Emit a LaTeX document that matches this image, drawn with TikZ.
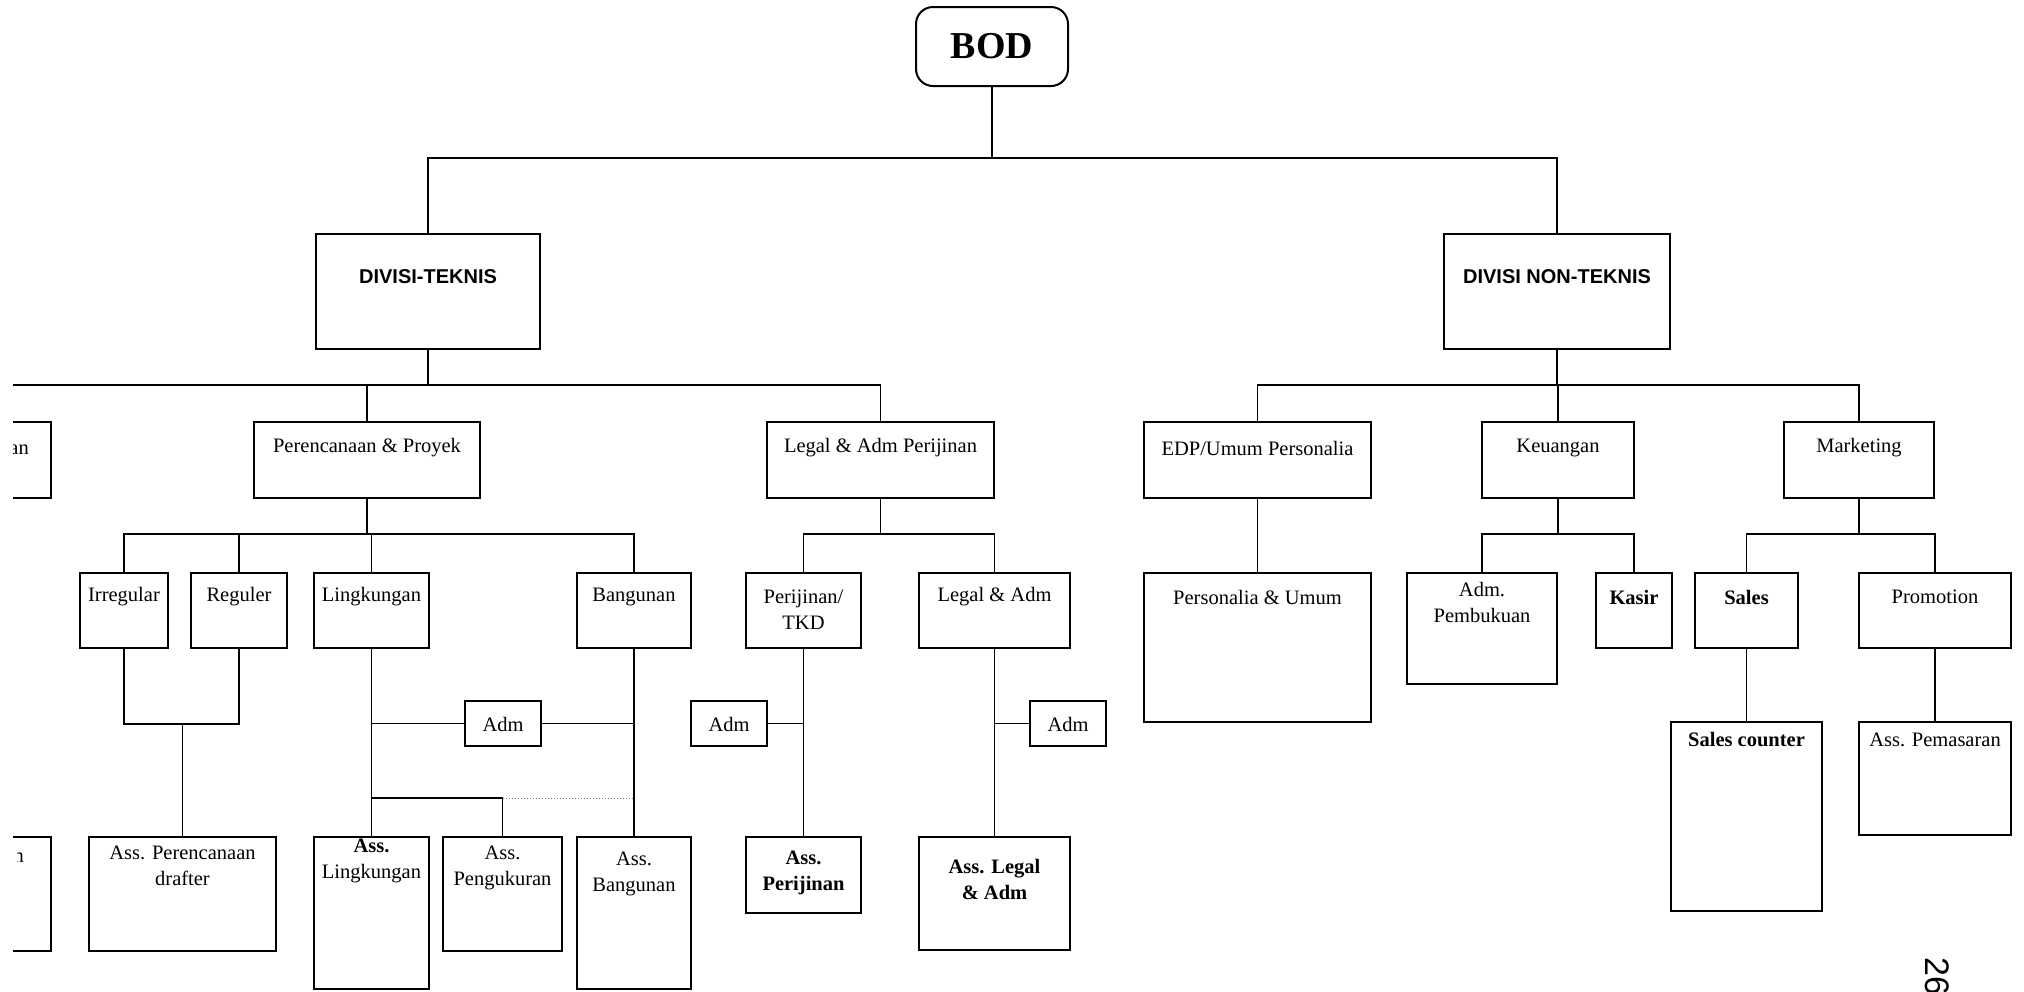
\documentclass[tikz,border=0pt]{standalone}
\usepackage{fontspec}
\setmainfont{Liberation Serif}
\newfontfamily\hvfont{Liberation Sans}
\usetikzlibrary{fit}
\newcommand\mkbox[5]{\coordinate (#1-a) at (#2,#3); \coordinate (#1-b) at (#4,#5); \node[boxst, fit=(#1-a)(#1-b)] (#1) {};}
\begin{document}
\begin{tikzpicture}[x=1pt,y=-1pt,
 boxst/.style={draw, line width=2pt, inner sep=0pt},
 ln/.style={line width=1.6pt},
 tx/.style={font=\fontsize{20.5}{26}\selectfont, align=center, inner sep=0pt},
 txb/.style={font=\bfseries\fontsize{20.5}{26}\selectfont, align=center, inner sep=0pt},
 dv/.style={font=\hvfont\bfseries\fontsize{20}{24}\selectfont, inner sep=0pt},
]
\useasboundingbox (0,0) rectangle (2024,991);
\fill[white] (0,0) rectangle (2024,991);
\clip (13,0) rectangle (2024,991);

% top
\coordinate (bod-a) at (916,7); \coordinate (bod-b) at (1068,86);
\node[draw, line width=2pt, inner sep=0pt, rounded corners=17pt, fit=(bod-a)(bod-b)] (bod) {};
\node[font=\bfseries\fontsize{38}{40}\selectfont, inner sep=0pt] (t-bod) at (992,46) {BOD};

\mkbox{dt}{316}{234}{540}{349}
\node[dv] (t-dt) at (428,277) {DIVISI-TEKNIS};
\mkbox{dnt}{1444}{234}{1670}{349}
\node[dv] (t-dnt) at (1557,277) {DIVISI NON-TEKNIS};

% level 2
\mkbox{lft1}{-60}{422}{51}{498}
\node[tx, anchor=east] (t-lft1) at (29,450) {an};
\mkbox{per}{254}{422}{480}{498}
\node[tx] (t-per) at (367,448) {Perencanaan \& Proyek};
\mkbox{lap}{767}{422}{994}{498}
\node[tx] (t-lap) at (880.5,448) {Legal \& Adm Perijinan};
\mkbox{edp}{1144}{422}{1371}{498}
\node[tx] (t-edp) at (1257.5,448) {EDP/Umum Personalia};
\mkbox{keu}{1482}{422}{1634}{498}
\node[tx] (t-keu) at (1558,448) {Keuangan};
\mkbox{mkt}{1784}{422}{1934}{498}
\node[tx] (t-mkt) at (1859,448) {Marketing};

% level 3
\mkbox{irr}{80}{573}{168}{648}
\node[tx] (t-irr) at (124,597) {Irregular};
\mkbox{reg}{191}{573}{287}{648}
\node[tx] (t-reg) at (239,597) {Reguler};
\mkbox{lin}{314}{573}{429}{648}
\node[tx] (t-lin) at (371.5,597) {Lingkungan};
\mkbox{ban}{577}{573}{691}{648}
\node[tx] (t-ban) at (634,597) {Bangunan};
\mkbox{ptkd}{746}{573}{861}{648}
\node[tx] (t-ptkd) at (803.5,610) {Perijinan/\\TKD};
\mkbox{la}{919}{573}{1070}{648}
\node[tx] (t-la) at (994.5,597) {Legal \& Adm};
\mkbox{pu}{1144}{573}{1371}{722}
\node[tx] (t-pu) at (1257.5,597) {Personalia \& Umum};
\mkbox{admp}{1407}{573}{1557}{684}
\node[tx] (t-admp) at (1482,602) {Adm.\\Pembukuan};
\mkbox{kas}{1596}{573}{1672}{648}
\node[txb] (t-kas) at (1634,597) {Kasir};
\mkbox{sal}{1695}{573}{1798}{648}
\node[txb] (t-sal) at (1746.5,597) {Sales};
\mkbox{pro}{1859}{573}{2011}{648}
\node[tx] (t-pro) at (1935,597) {Promotion};

% adm row
\mkbox{admm}{465}{701}{541}{746}
\node[tx] (t-admm) at (503,724) {Adm};
\mkbox{adml}{691}{701}{767}{746}
\node[tx] (t-adml) at (729,724) {Adm};
\mkbox{admr}{1030}{701}{1106}{746}
\node[tx] (t-admr) at (1068,724) {Adm};
\mkbox{sc}{1671}{722}{1822}{911}
\node[txb] (t-sc) at (1746.5,740) {Sales counter};
\mkbox{apm}{1859}{722}{2011}{835}
\node[tx] (t-apm) at (1935,740) {Ass. Pemasaran};

% ass row
\mkbox{lft2}{-60}{837}{51}{951}
\begin{scope}
\clip (17,830) rectangle (60,890);
\node[tx, anchor=east] (t-lft2) at (24,858) {n};
\end{scope}
\mkbox{apd}{89}{837}{276}{951}
\node[tx] (t-apd) at (182.5,865.5) {Ass. Perencanaan\\drafter};
\mkbox{alin}{314}{837}{429}{989}
\node[tx] (t-alin) at (371.5,861) {\textbf{Ass.}\\Lingkungan};
\mkbox{apg}{443}{837}{562}{951}
\node[tx] (t-apg) at (502.5,868) {Ass.\\Pengukuran};
\mkbox{aban}{577}{837}{691}{989}
\node[tx] (t-aban) at (634,874) {Ass.\\Bangunan};
\mkbox{aper}{746}{837}{861}{913}
\node[txb] (t-aper) at (803.5,873) {Ass.\\Perijinan};
\mkbox{ala}{919}{837}{1070}{950}
\node[txb] (t-ala) at (994.5,879) {Ass. Legal\\\& Adm};

% connectors
\coordinate (b0) at (992,158);
\draw[ln] (bod.south) -- (b0);
\draw[ln] (dt.north) |- (b0) -| (dnt.north);

\coordinate (b1) at (0,385);
\draw[ln] (dt.south) -- (dt.south |- b1);
\draw[ln] (b1) -| (lap.north);
\draw[ln] (per.north) -- (per.north |- b1);
\coordinate (b1r) at (1557,385);
\draw[ln] (dnt.south) -- (b1r);
\draw[ln] (edp.north) |- (b1r) -| (mkt.north);
\draw[ln] (keu.north) -- (keu.north |- b1r);

\coordinate (b2a) at (367,534);
\draw[ln] (per.south) -- (b2a);
\draw[ln] (irr.north) |- (b2a) -| (ban.north);
\draw[ln] (reg.north) -- (reg.north |- b2a);
\draw[ln] (lin.north) -- (lin.north |- b2a);
\coordinate (b2b) at (880.5,534);
\draw[ln] (lap.south) -- (b2b);
\draw[ln] (ptkd.north) |- (b2b) -| (la.north);
\coordinate (b2c) at (1558,534);
\draw[ln] (keu.south) -- (b2c);
\draw[ln] (admp.north) |- (b2c) -| (kas.north);
\coordinate (b2d) at (1859,534);
\draw[ln] (mkt.south) -- (b2d);
\draw[ln] (sal.north) |- (b2d) -| (pro.north);
\draw[ln] (edp.south) -- (pu.north);

\coordinate (m1) at (182.5,724);
\draw[ln] (irr.south) |- (m1) -| (reg.south);
\draw[ln] (m1) -- (apd.north);
\draw[ln] (lin.south) -- (alin.north);
\draw[ln] (ban.south) -- (aban.north);
\draw[ln] (admm.west) -- (admm.west -| lin.south);
\draw[ln] (admm.east) -- (admm.east -| ban.south);
\coordinate (m2) at (502.5,798);
\draw[ln] (m2 -| lin.south) -- (m2) -- (apg.north);
\draw[line width=1pt, dotted, black!55] (m2) -- (m2 -| ban.south);
\draw[ln] (ptkd.south) -- (aper.north);
\draw[ln] (adml.east) -- (adml.east -| ptkd.south);
\draw[ln] (la.south) -- (ala.north);
\draw[ln] (admr.west) -- (admr.west -| la.south);
\draw[ln] (sal.south) -- (sc.north);
\draw[ln] (pro.south) -- (apm.north);

\node[font=\hvfont\fontsize{34}{36}\selectfont, rotate=-90, anchor=south west, inner sep=0pt] (pg) at (1925,957) {26};
\end{tikzpicture}
\end{document}
